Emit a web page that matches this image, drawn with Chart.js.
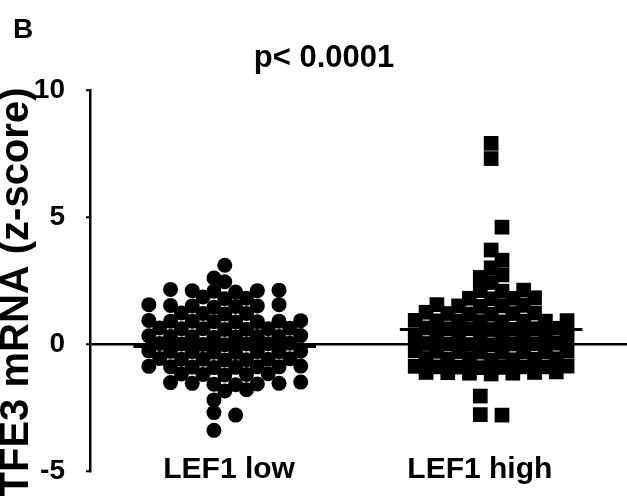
<!DOCTYPE html>
<html>
<head>
<meta charset="utf-8">
<title>TFE3 mRNA vs LEF1</title>
<script src="https://cdn.jsdelivr.net/npm/chart.js@4.4.1/dist/chart.umd.min.js"></script>
<style>
  html, body { margin: 0; padding: 0; background: #fff; }
  #wrap { width: 627px; height: 500px; position: relative; }
</style>
</head>
<body>
<div id="wrap"><canvas id="chart"></canvas></div>
<script>
  // ---- datos ----
  const groupLabels = ["LEF1 low", "LEF1 high"];
  const groupMeans = [-0.1, 0.57];
  const yTicks = [-5, 0, 5, 10];
  const panelLabel = "B";
  const pValueText = "p< 0.0001";
  const yTitle = "TFE3 mRNA (z-score)";

  // z-scores, grupo LEF1 low (círculos)
  const lefLow = [
    3.1, 2.6, 2.45,
    2.15, 2.1, 2.05, 2.1, 2.12, 2.08,
    1.85, 1.8, 1.78,
    1.55, 1.5, 1.48, 1.52, 1.55, 1.45, 1.5,
    1.22, 1.2, 1.18, 1.2,
    0.92, 0.9, 0.88, 0.9, 0.87, 0.93, 0.9, 0.88,
    0.6, 0.62, 0.58, 0.6, 0.63, 0.57, 0.6,
    0.3, 0.32, 0.28, 0.3, 0.27, 0.33, 0.3, 0.29,
    0.0, 0.02, -0.02, 0.03, -0.03, 0.0, 0.01,
    -0.3, -0.28, -0.32, -0.3, -0.27, -0.33, -0.3, -0.29,
    -0.6, -0.58, -0.62, -0.6, -0.63, -0.57, -0.6,
    -0.9, -0.92, -0.88, -0.9, -0.93, -0.87, -0.9, -0.91,
    -1.2, -1.18, -1.22, -1.2, -1.17,
    -1.58, -1.55, -1.5, -1.6, -1.52, -1.57, -1.55,
    -1.85, -1.8,
    -2.2,
    -2.7, -2.8,
    -3.4
  ];

  // z-scores, grupo LEF1 high (cuadrados)
  const lefHigh = [
    7.9, 7.3, 4.6, 3.7, 3.3, 3.0,
    2.72, 2.62, 2.42,
    2.1, 2.08, 2.12,
    1.8, 1.82, 1.78, 1.8,
    1.52, 1.5, 1.48, 1.5, 1.55,
    1.2, 1.22, 1.18, 1.25, 1.2, 1.17,
    0.9, 0.92, 0.88, 0.9, 0.93, 0.87, 0.9, 0.91,
    0.6, 0.62, 0.58, 0.6, 0.63, 0.57, 0.6,
    0.3, 0.32, 0.28, 0.3, 0.27, 0.33, 0.3, 0.29,
    0.0, 0.02, -0.02, 0.03, -0.03, 0.0, 0.01,
    -0.3, -0.28, -0.32, -0.3, -0.27, -0.33, -0.3, -0.29,
    -0.6, -0.58, -0.62, -0.6, -0.63, -0.57, -0.6,
    -0.9, -0.92, -0.88, -0.9, -0.93, -0.87, -0.9, -0.91,
    -1.12, -1.15, -1.13, -1.1, -1.18, -1.15, -1.12,
    -2.05,
    -2.8, -2.78
  ];

  // ---- layout (no son datos) ----
  const FONT = "'Liberation Sans', Arial, Helvetica, sans-serif";
  const GROUP_X = [2.51, 7.47];    // centro de cada grupo en el eje x
  const LABEL_X = [2.59, 7.26];    // posición de las etiquetas del eje x
  const MEAN_HALF = 1.7;           // media anchura de la línea de la media
  const ROW_H = 0.3;               // alto de fila del dot plot
  const COL_W = 0.404;             // separación horizontal entre puntos

  // reparte los puntos en filas sobre una malla hexagonal (tipo Prism)
  function dotPlot(values, center) {
    const rows = new Map();
    values.slice().sort((a, b) => a - b).forEach(v => {
      const k = Math.round(v / ROW_H);
      if (!rows.has(k)) rows.set(k, []);
      rows.get(k).push(v);
    });
    const pts = [];
    rows.forEach((row, k) => {
      const odd = Math.abs(k) % 2 === 1;
      const side = Math.abs(Math.floor(k / 2)) % 2 === 0 ? -1 : 1;
      row.forEach((v, i) => {
        let slot;
        if (odd) {
          slot = (i % 2 === 0 ? side : -side) * (Math.floor(i / 2) + 0.5);
        } else {
          slot = i === 0 ? 0 : (i % 2 === 1 ? side : -side) * Math.ceil(i / 2);
        }
        pts.push({ x: center + slot * COL_W, y: v });
      });
    });
    return pts;
  }

  function meanLine(i) {
    return [
      { x: GROUP_X[i] - MEAN_HALF, y: groupMeans[i] },
      { x: GROUP_X[i] + MEAN_HALF, y: groupMeans[i] }
    ];
  }

  // textos fuera del área: letra del panel, valor p y título del eje y
  const headerText = {
    id: "headerText",
    afterDraw(chart) {
      const ctx = chart.ctx;
      ctx.save();
      ctx.fillStyle = "#000";
      ctx.textBaseline = "middle";
      ctx.textAlign = "left";
      ctx.font = "bold 28px " + FONT;
      ctx.fillText(panelLabel, 13, 30);
      ctx.textAlign = "center";
      ctx.font = "bold 31px " + FONT;
      ctx.fillText(pValueText, 324, 58);
      ctx.translate(17, 292);
      ctx.rotate(-Math.PI / 2);
      ctx.font = "bold 40px " + FONT;
      ctx.fillText(yTitle, 0, 0);
      ctx.restore();
    }
  };

  new Chart(document.getElementById("chart"), {
    type: "scatter",
    data: {
      datasets: [
        {
          label: groupLabels[0],
          data: dotPlot(lefLow, GROUP_X[0]),
          pointStyle: "circle",
          pointRadius: 7.5,
          backgroundColor: "#000",
          borderWidth: 0
        },
        {
          label: groupLabels[1],
          data: dotPlot(lefHigh, GROUP_X[1]),
          pointStyle: "rect",
          pointRadius: 10.4,
          backgroundColor: "#000",
          borderWidth: 0
        },
        {
          type: "line",
          data: meanLine(0),
          borderColor: "#000",
          borderWidth: 3,
          pointRadius: 0
        },
        {
          type: "line",
          data: meanLine(1),
          borderColor: "#000",
          borderWidth: 3,
          pointRadius: 0
        }
      ]
    },
    options: {
      responsive: true,
      maintainAspectRatio: false,
      animation: false,
      events: [],
      layout: { autoPadding: false, padding: { top: 90, right: 0, bottom: 0, left: 0 } },
      scales: {
        x: {
          type: "linear",
          min: 0,
          max: 10,
          afterBuildTicks: axis => { axis.ticks = LABEL_X.map(v => ({ value: v })); },
          afterFit: axis => { axis.height = 29; },
          grid: { display: false, drawTicks: false },
          border: { display: false },
          ticks: {
            mirror: true,
            padding: -13.5,
            color: "#000",
            font: { family: FONT, size: 30, weight: "bold", lineHeight: 1 },
            maxRotation: 0,
            autoSkip: false,
            callback: (v, i) => groupLabels[i]
          }
        },
        y: {
          min: -5,
          max: 10,
          afterBuildTicks: axis => { axis.ticks = yTicks.map(v => ({ value: v })); },
          afterFit: axis => { axis.width = 90; },
          grid: {
            color: c => (c.tick && c.tick.value === 0 ? "#000" : "rgba(0,0,0,0)"),
            lineWidth: 2.5,
            drawTicks: true,
            tickLength: 4,
            tickColor: "#000",
            tickWidth: 2
          },
          border: { display: true, color: "#000", width: 2.5 },
          ticks: {
            padding: 21,
            color: "#000",
            // lineHeight bajo para que el padding del eje no empuje el área del gráfico
            font: { family: FONT, size: 28, weight: "bold", lineHeight: 0.4 }
          }
        }
      },
      plugins: {
        legend: { display: false },
        tooltip: { enabled: false }
      }
    },
    plugins: [headerText]
  });
</script>
</body>
</html>
